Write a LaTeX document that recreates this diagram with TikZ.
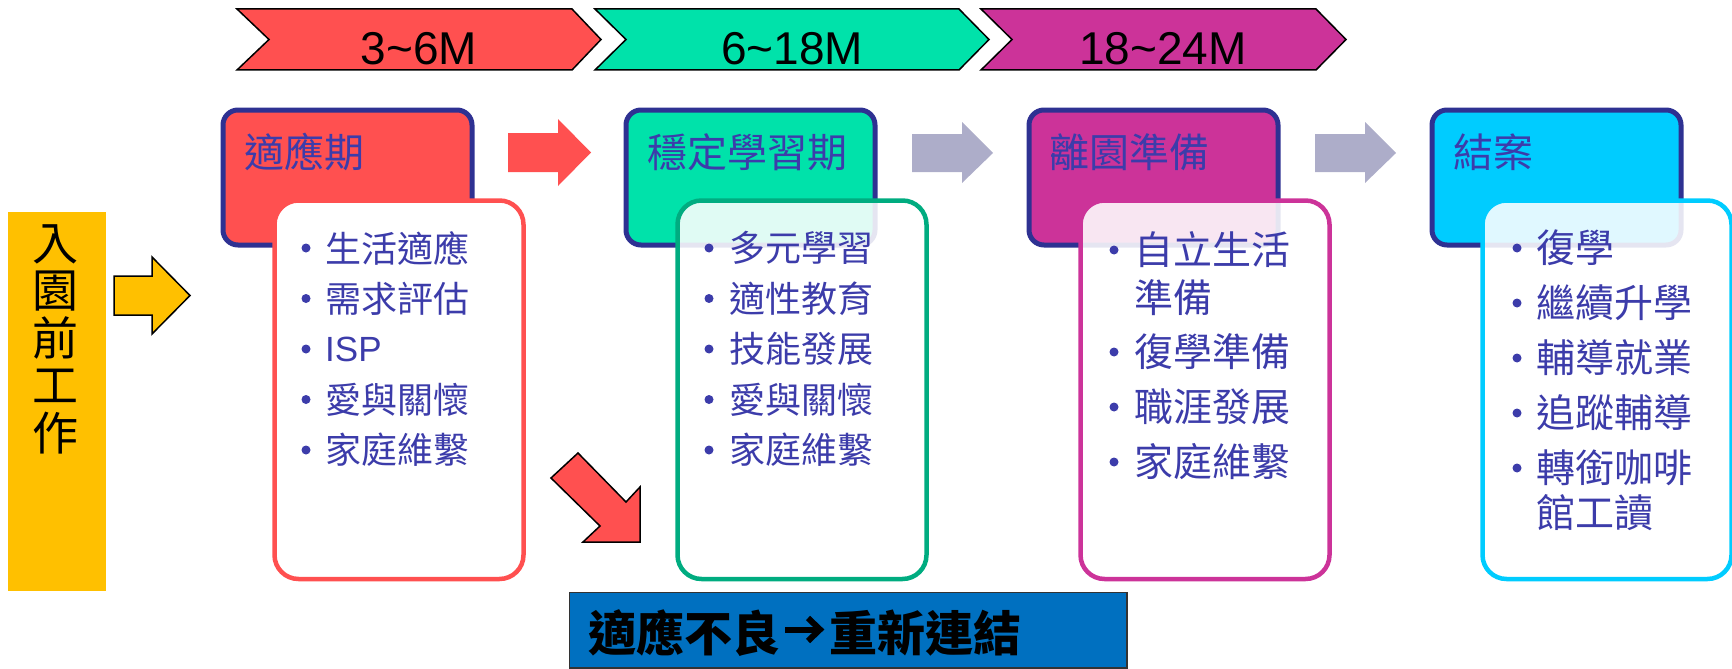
\documentclass[tikz,border=0pt]{standalone}
\usepackage{fontspec}
\newfontfamily\cjk{Noto Sans CJK TC}
\newfontfamily\arial{Liberation Sans}
\definecolor{cRed}{RGB}{255,80,80}
\definecolor{cGreen}{RGB}{0,226,170}
\definecolor{cGreenD}{RGB}{0,172,128}
\definecolor{cMag}{RGB}{204,51,153}
\definecolor{cCyan}{RGB}{0,204,255}
\definecolor{cNavy}{RGB}{46,49,146}
\definecolor{cText}{RGB}{60,60,170}
\definecolor{cGray}{RGB}{173,173,201}
\definecolor{cYellow}{RGB}{255,192,0}
\definecolor{cBlue}{RGB}{0,112,192}
\begin{document}
\begin{tikzpicture}[x=1pt,y=-1pt,
  hdrbox/.style={draw=cNavy, line width=5pt, rounded corners=15pt, minimum width=249pt, minimum height=135pt, anchor=north west, inner sep=0pt},
  listbox/.style={line width=4.5pt, rounded corners=24pt, minimum width=249pt, minimum height=378.5pt, anchor=north west, inner sep=0pt},
  chev/.style={draw=black, line width=1.5pt},
  chevtext/.style={font=\arial\fontsize{46}{50}\selectfont, anchor=base, inner sep=0pt},
  htext/.style={font=\cjk\fontsize{40}{48}\selectfont, text=cText, anchor=west, inner sep=0pt},
  itemA/.style={font=\cjk\fontsize{36}{44}\selectfont, text=cText, anchor=west, inner sep=0pt},
  itemB/.style={font=\cjk\fontsize{39}{46}\selectfont, text=cText, anchor=west, inner sep=0pt},
  bdot/.style={circle, fill=cText, minimum size=9pt, inner sep=0pt},
  blockarrow/.style={line width=1.5pt},
  badtext/.style={font=\cjk\bfseries\fontsize{48}{56}\selectfont, inner sep=0pt}
]
\useasboundingbox (0,0) rectangle (1732,669);

% ---- time chevrons ----
\filldraw[chev, fill=cRed]   (237,9) -- (572,9) -- (601,39.5) -- (572,70) -- (237,70) -- (269,39.5) -- cycle;
\filldraw[chev, fill=cGreen] (595,9) -- (959,9) -- (989,39.5) -- (959,70) -- (595,70) -- (626,39.5) -- cycle;
\filldraw[chev, fill=cMag]   (981,9) -- (1316,9) -- (1346,39.5) -- (1316,70) -- (981,70) -- (1012,39.5) -- cycle;
\node[chevtext] (t1) at (419,65) {3\textasciitilde 6M};
\node[chevtext] (t2) at (792,65) {6\textasciitilde 18M};
\node[chevtext] (t3) at (1163,65) {18\textasciitilde 24M};

% ---- left yellow block ----
\node[fill=cYellow, minimum width=98pt, minimum height=379pt, anchor=north west, inner sep=0pt] (pre) at (8,212) {};
\node[font=\cjk\fontsize{46}{47.5}\selectfont, align=center, anchor=north, inner sep=0pt] (pretext) at (55,224) {入\\園\\前\\工\\作};
\filldraw[blockarrow, fill=cYellow] (114,276) -- (152,276) -- (152,257) -- (190,295.5) -- (152,334) -- (152,315) -- (114,315) -- cycle;

% ---- header boxes ----
\node[hdrbox, fill=cRed]   (h1) at (220.5,107.5) {};
\node[hdrbox, fill=cGreen] (h2) at (623.5,107.5) {};
\node[hdrbox, fill=cMag]   (h3) at (1026.5,107.5) {};
\node[hdrbox, fill=cCyan]  (h4) at (1429.5,107.5) {};
\node[htext] (h1t) at (244,152) {適應期};
\node[htext] (h2t) at (647,152) {穩定學習期};
\node[htext] (h3t) at (1049,152) {離園準備};
\node[htext] (h4t) at (1453,152) {結案};

% ---- arrows between headers ----
\fill[cRed]  (508,133) -- (558,133) -- (558,119) -- (591,152.5) -- (558,186) -- (558,172) -- (508,172) -- cycle;
\fill[cGray] (912,134) -- (962,134) -- (962,122) -- (993,153) -- (962,183) -- (962,172) -- (912,172) -- cycle;
\fill[cGray] (1315,134) -- (1365,134) -- (1365,122) -- (1396,153) -- (1365,183) -- (1365,172) -- (1315,172) -- cycle;

% ---- list boxes ----
\node[listbox, draw=cRed, fill=white] (l1) at (272.25,198.25) {};
\node[listbox, draw=cGreenD, fill=white, fill opacity=0.88] (l2) at (675.25,198.25) {};
\node[listbox, draw=cMag, fill=white, fill opacity=0.88] (l3) at (1078.25,198.25) {};
\node[listbox, draw=cCyan, fill=white, fill opacity=0.88] (l4) at (1480.25,198.25) {};

% box 1 items
\foreach \y/\n in {248/a,298.5/b,349/c,399.5/d,450/e} \node[bdot] (d1\n) at (306,\y) {};
\node[itemA] (i1a) at (325,248) {生活適應};
\node[itemA] (i1b) at (325,298.5) {需求評估};
\node[itemA, font=\arial\fontsize{35}{42}\selectfont] (i1c) at (325,349) {ISP};
\node[itemA] (i1d) at (325,399.5) {愛與關懷};
\node[itemA] (i1e) at (325,450) {家庭維繫};

% box 2 items
\foreach \y/\n in {248/a,298.5/b,349/c,399.5/d,450/e} \node[bdot] (d2\n) at (709,\y) {};
\node[itemA] (i2a) at (729,248) {多元學習};
\node[itemA] (i2b) at (729,298.5) {適性教育};
\node[itemA] (i2c) at (729,349) {技能發展};
\node[itemA] (i2d) at (729,399.5) {愛與關懷};
\node[itemA] (i2e) at (729,450) {家庭維繫};

% box 3 items
\foreach \y/\n in {250/a,352/b,407/c,462/d} \node[bdot] (d3\n) at (1114,\y) {};
\node[itemB] (i3a) at (1134,250) {自立生活};
\node[itemB] (i3a2) at (1134,298) {準備};
\node[itemB] (i3b) at (1134,352) {復學準備};
\node[itemB] (i3c) at (1134,407) {職涯發展};
\node[itemB] (i3d) at (1134,462) {家庭維繫};

% box 4 items
\foreach \y/\n in {248/a,303/b,358/c,413/d,468/e} \node[bdot] (d4\n) at (1517,\y) {};
\node[itemB] (i4a) at (1536,248) {復學};
\node[itemB] (i4b) at (1536,303) {繼續升學};
\node[itemB] (i4c) at (1536,358) {輔導就業};
\node[itemB] (i4d) at (1536,413) {追蹤輔導};
\node[itemB] (i4e) at (1536,468) {轉銜咖啡};
\node[itemB] (i4e2) at (1536,513) {館工讀};

% ---- diagonal red arrow ----
\filldraw[blockarrow, fill=cRed] (551,478) -- (578,453) -- (626,502) -- (640,487) -- (640,542) -- (583,542) -- (600,526) -- cycle;

% ---- bottom blue box ----
\node[draw=black!80, line width=1.5pt, fill=cBlue, minimum width=557.5pt, minimum height=75.5pt, anchor=north west, inner sep=0pt] (bad) at (568.75,591.75) {};
\node[badtext, anchor=west] (badL) at (588,633) {適應不良};
\node[badtext, anchor=west] (badR) at (829,633) {重新連結};
\coordinate (arrS) at (785,629.5);
\coordinate (arrE) at (820,629.5);
\coordinate (arrU) at (808,618);
\coordinate (arrD) at (808,641);
\draw[line width=6pt] (arrS) -- (arrE);
\draw[line width=6pt, miter limit=10] (arrU) -- (arrE) -- (arrD);
\end{tikzpicture}
\end{document}
